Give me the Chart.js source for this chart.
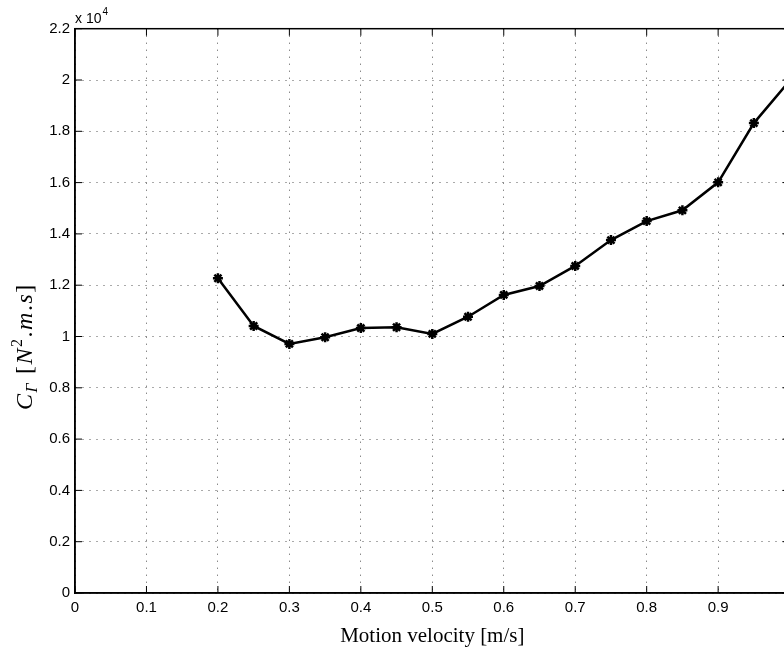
<!DOCTYPE html>
<html>
<head>
<meta charset="utf-8">
<script src="https://cdn.jsdelivr.net/npm/chart.js@4/dist/chart.umd.min.js"></script>
<style>
  html, body { margin: 0; padding: 0; background: #fff; overflow: hidden; }
  #wrap { width: 800px; height: 660px; }
</style>
</head>
<body>
<div id="wrap"><canvas id="chart" width="800" height="660"></canvas></div>
<script>
// motion velocity [m/s]
const velocity = [0.2, 0.25, 0.3, 0.35, 0.4, 0.45, 0.5, 0.55, 0.6, 0.65, 0.7, 0.75, 0.8, 0.85, 0.9, 0.95, 1.0]
// C_Gamma values
const ctValues = [12270, 10410, 9710, 9970, 10330, 10360, 10100, 10770, 11620, 11970, 12750, 13760, 14500, 14920, 16010, 18320, 19970]
const xTicks = [0, 0.1, 0.2, 0.3, 0.4, 0.5, 0.6, 0.7, 0.8, 0.9, 1]
const yTicks = [0, 2000, 4000, 6000, 8000, 10000, 12000, 14000, 16000, 18000, 20000, 22000]

const tickFont = { family: 'Liberation Sans', size: 15 }

// matlab style box, inward ticks and the axis titles
const matlabAxes = {
  id: 'matlabAxes',
  afterDraw(chart) {
    const ctx = chart.ctx
    const a = chart.chartArea
    const xs = chart.scales.x, ys = chart.scales.y
    const tl = 7
    ctx.save()
    ctx.strokeStyle = '#000'
    ctx.lineWidth = 1
    ctx.beginPath()
    ys.ticks.forEach(t => {
      const p = ys.getPixelForValue(t.value)
      ctx.moveTo(a.left, p); ctx.lineTo(a.left + tl, p)
      ctx.moveTo(a.right, p); ctx.lineTo(a.right - tl, p)
    })
    xs.ticks.forEach(t => {
      const p = xs.getPixelForValue(t.value)
      ctx.moveTo(p, a.bottom); ctx.lineTo(p, a.bottom - tl)
      ctx.moveTo(p, a.top); ctx.lineTo(p, a.top + tl)
    })
    ctx.stroke()
    ctx.lineWidth = 1.5
    ctx.strokeRect(a.left, a.top, a.right - a.left, a.bottom - a.top)

    ctx.fillStyle = '#000'
    // exponent label
    ctx.textBaseline = 'alphabetic'
    ctx.textAlign = 'left'
    ctx.font = '14px "Liberation Sans"'
    ctx.fillText('x 10', a.left, 23)
    const w10 = ctx.measureText('x 10').width
    ctx.font = '10px "Liberation Sans"'
    ctx.fillText('4', a.left + w10 + 1, 15)

    // x title
    ctx.font = '21px "Liberation Serif"'
    ctx.textAlign = 'center'
    ctx.fillText('Motion velocity [m/s]', (a.left + a.right) / 2, 642)

    // y title, rotated, starting at y=410
    const parts = [
      ['C', 'italic 24px "Liberation Serif"', 0, 0],
      ['Γ', 'italic 16px "Liberation Serif"', 5, 0],
      ['[', '24px "Liberation Serif"', 0, 8],
      ['N', 'italic 24px "Liberation Serif"', 0, 0],
      ['2', '16px "Liberation Serif"', -10, 0],
      ['.', '24px "Liberation Serif"', 0, 0],
      ['m', 'italic 24px "Liberation Serif"', 0, 0],
      ['.', '24px "Liberation Serif"', 0, 0],
      ['s', 'italic 24px "Liberation Serif"', 0, 0],
      [']', '24px "Liberation Serif"', 0, 0]
    ]
    const gap = 1.5
    ctx.translate(32, 410)
    ctx.rotate(-Math.PI / 2)
    ctx.textAlign = 'left'
    let x = 0
    parts.forEach(p => {
      ctx.font = p[1]
      x += p[3]
      ctx.fillText(p[0], x, p[2])
      x += ctx.measureText(p[0]).width + gap
    })
    ctx.restore()
  }
}

const canvas = document.getElementById('chart')
new Chart(canvas, {
  type: 'line',
  data: {
    datasets: [{
      data: velocity.map((v, i) => ({ x: v, y: ctValues[i] })),
      borderColor: '#000',
      backgroundColor: '#000',
      borderWidth: 2.5,
      pointStyle: 'star',
      pointRadius: 5,
      pointBorderWidth: 2.5,
      pointBorderColor: '#000',
      tension: 0,
      fill: false
    }]
  },
  options: {
    responsive: false,
    animation: false,
    layout: { padding: { top: 28.7, right: 10.4, left: 0, bottom: 0 } },
    plugins: { legend: { display: false }, tooltip: { enabled: false } },
    scales: {
      x: {
        type: 'linear',
        min: 0, max: 1,
        afterBuildTicks: s => { s.ticks = xTicks.map(v => ({ value: v })) },
        afterFit: s => { s.height = 67 },
        ticks: { font: tickFont, color: '#000', padding: 6, maxRotation: 0,
          callback: v => String(v) },
        grid: { color: '#555', lineWidth: 1, drawTicks: false },
        border: { display: true, color: '#000', width: 1.5, dash: [1, 6] }
      },
      y: {
        min: 0, max: 22000,
        afterBuildTicks: s => { s.ticks = yTicks.map(v => ({ value: v })) },
        afterFit: s => { s.width = 75 },
        ticks: { font: tickFont, color: '#000', padding: 5,
          callback: v => String(Math.round(v / 1000) / 10) },
        grid: { color: '#555', lineWidth: 1, drawTicks: false },
        border: { display: true, color: '#000', width: 1.5, dash: [1, 6] }
      }
    }
  },
  plugins: [matlabAxes]
})
</script>
</body>
</html>
